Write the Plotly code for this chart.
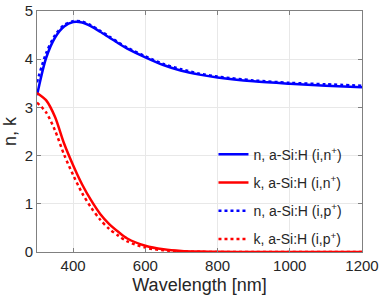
import plotly.graph_objects as go

wl = [300, 325, 350, 375, 400, 425, 450, 475, 500, 525, 550, 600, 650, 700, 750, 800, 900, 1000, 1100, 1200]

n_in = [3.25, 4.02, 4.45, 4.68, 4.77, 4.76, 4.68, 4.57, 4.45, 4.33, 4.22, 4.04, 3.88, 3.76, 3.68, 3.62, 3.54, 3.49, 3.45, 3.42]
k_in = [3.30, 3.15, 2.80, 2.25, 1.80, 1.40, 1.07, 0.79, 0.58, 0.42, 0.28, 0.13, 0.055, 0.02, 0.008, 0.003, 0.001, 0.0, 0.0, 0.0]
n_ip = [3.52, 4.12, 4.50, 4.71, 4.79, 4.78, 4.70, 4.59, 4.47, 4.35, 4.24, 4.06, 3.90, 3.79, 3.70, 3.64, 3.56, 3.51, 3.48, 3.45]
k_ip = [3.10, 2.90, 2.52, 2.02, 1.60, 1.22, 0.92, 0.67, 0.48, 0.34, 0.22, 0.09, 0.035, 0.012, 0.004, 0.001, 0.0, 0.0, 0.0, 0.0]

names = ["n, a-Si:H (i,n<sup>+</sup>)", "k, a-Si:H (i,n<sup>+</sup>)",
         "n, a-Si:H (i,p<sup>+</sup>)", "k, a-Si:H (i,p<sup>+</sup>)"]
series = [n_in, k_in, n_ip, k_ip]
colors = ["#0000ff", "#ff0000", "#0000ff", "#ff0000"]
dashes = ["solid", "solid", "dot", "dot"]

fig = go.Figure()
for i, (nm, ys, c, d) in enumerate(zip(names, series, colors, dashes)):
    fig.add_trace(go.Scatter(x=wl, y=ys, name=nm, mode="lines",
                             line=dict(color=c, width=2.5, dash=d, shape="spline", smoothing=0.8),
                             legendgroup=str(i)))

axis_common = dict(showline=True, linecolor="#808080", linewidth=1, mirror="ticks",
                   ticks="inside", ticklen=4, tickcolor="#808080", automargin=False,
                   showgrid=True, gridcolor="#e8e8e8", gridwidth=1, zeroline=False,
                   tickfont=dict(family="Liberation Sans, Arial", size=15, color="#262626"))

fig.update_layout(
    width=382, height=300,
    margin=dict(l=37, r=20, t=11, b=48),
    paper_bgcolor="white", plot_bgcolor="white",
    xaxis=dict(range=[300, 1200], tickvals=[400, 600, 800, 1000, 1200],
               title=dict(text="Wavelength [nm]", standoff=5,
                          font=dict(family="Liberation Sans, Arial", size=18, color="#262626")),
               **axis_common),
    yaxis=dict(range=[0, 5], tickvals=[0, 1, 2, 3, 4, 5],
               title=dict(text="n, k", standoff=7,
                          font=dict(family="Liberation Sans, Arial", size=18, color="#262626")),
               **axis_common),
    legend=dict(x=0.543, y=0.47, xanchor="left", yanchor="top",
                bgcolor="rgba(0,0,0,0)", tracegroupgap=7,
                font=dict(family="Liberation Sans, Arial", size=14, color="#262626")),
    showlegend=True,
)

fig.write_html("out.html", config={"displayModeBar": False},
               post_script="document.body.style.margin='0';document.body.style.overflow='hidden';")
